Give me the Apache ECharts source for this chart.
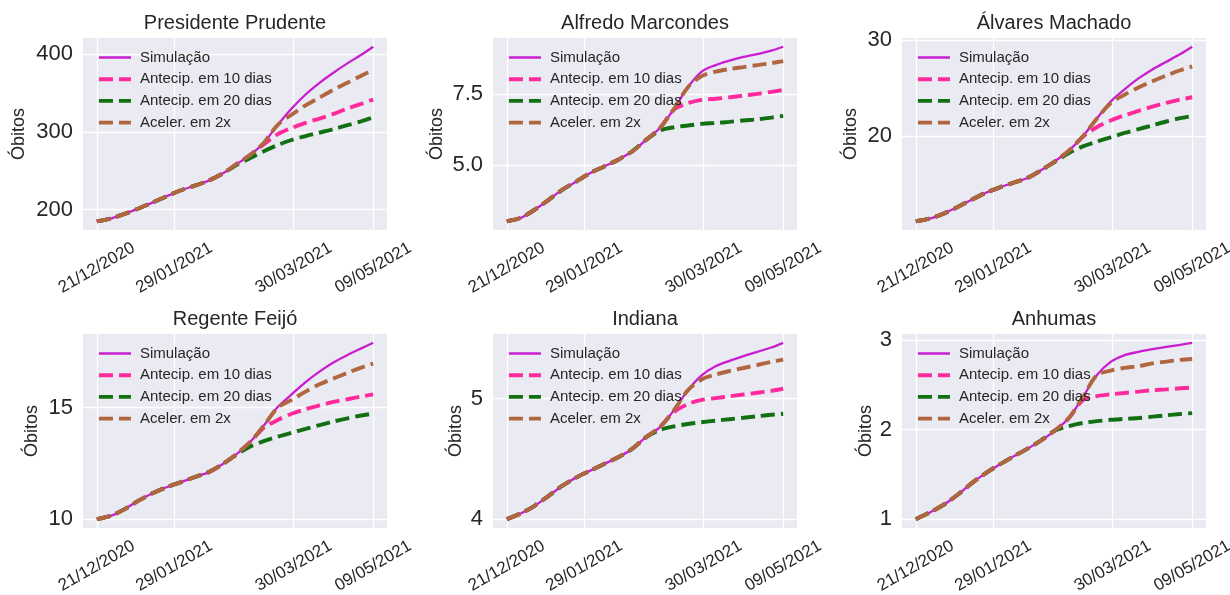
<!DOCTYPE html>
<html><head><meta charset="utf-8">
<script src="https://cdn.jsdelivr.net/npm/echarts@6/dist/echarts.min.js"></script>
<style>html,body{margin:0;padding:0;background:#fff}#c{width:1230px;height:595px}</style>
</head><body><div id="c"></div>
<script>
// ---- data ----
const days = [0,7,14,21,28,35,42,49,56,63,70,77,84,91,98,105,112,119,126,133,139];
const xTickDays = [0,39,99,139];
const xTickLabels = ['21/12/2020','29/01/2021','30/03/2021','09/05/2021'];
const seriesNames = ['Simulação','Antecip. em 10 dias','Antecip. em 20 dias','Aceler. em 2x'];
const titles = ['Presidente Prudente','Alfredo Marcondes','Álvares Machado','Regente Feijó','Indiana','Anhumas'];

const ppSim = [185,188.5,194.5,201.5,209,217,224.5,230.5,237,246,258,270,286,309,330,348,363,376,388,399,409.4];
const ppA10 = [185,188.5,194.5,201.5,209,217,224.5,230.5,237,246,258,270,284,297,305,311.5,317,323,330,336,341.6];
const ppA20 = [185,188.5,194.5,201.5,209,217,224.5,230.5,237,246,257,266,275,283,289.5,294.5,299,303.5,308.5,313.5,318.4];
const ppAc2 = [185,188.5,194.5,201.5,209,217,224.5,230.5,237,246,258,270,286,309,322,334,344,354,363,372,380];
const ppTicks = [200,300,400];
const ppTickLabels = ['200','300','400'];

const amSim = [3.0,3.12,3.41,3.76,4.12,4.41,4.71,4.94,5.18,5.47,5.88,6.30,6.97,7.74,8.30,8.53,8.69,8.82,8.92,9.04,9.18];
const amA10 = [3.0,3.12,3.41,3.76,4.12,4.41,4.71,4.94,5.18,5.47,5.88,6.30,6.95,7.18,7.30,7.34,7.39,7.45,7.51,7.58,7.65];
const amA20 = [3.0,3.12,3.41,3.76,4.12,4.41,4.71,4.94,5.18,5.47,5.88,6.21,6.33,6.39,6.45,6.48,6.52,6.57,6.61,6.67,6.73];
const amAc2 = [3.0,3.12,3.41,3.76,4.12,4.41,4.71,4.94,5.18,5.47,5.88,6.30,6.97,7.74,8.14,8.30,8.39,8.46,8.53,8.60,8.67];
const amTicks = [5.0,7.5];
const amTickLabels = ['5.0','7.5'];

const avSim = [11.08,11.35,11.88,12.57,13.33,14.03,14.6,15.1,15.6,16.4,17.35,18.45,19.95,21.8,23.58,24.86,26.0,26.94,27.74,28.54,29.31];
const avA10 = [11.08,11.35,11.88,12.57,13.33,14.03,14.6,15.1,15.6,16.4,17.35,18.45,19.9,20.9,21.6,22.15,22.6,23.05,23.45,23.8,24.03];
const avA20 = [11.08,11.35,11.88,12.57,13.33,14.03,14.6,15.1,15.6,16.4,17.3,18.2,18.9,19.4,19.85,20.3,20.7,21.1,21.5,21.85,22.08];
const avAc2 = [11.08,11.35,11.88,12.57,13.33,14.03,14.6,15.1,15.6,16.4,17.35,18.45,19.95,21.8,23.4,24.3,25.05,25.7,26.3,26.85,27.25];
const avTicks = [20,30];
const avTickLabels = ['20','30'];

const rfSim = [10.0,10.15,10.45,10.83,11.16,11.43,11.65,11.88,12.1,12.45,12.9,13.45,14.2,15.03,15.6,16.15,16.62,17.03,17.36,17.66,17.91];
const rfA10 = [10.0,10.15,10.45,10.83,11.16,11.43,11.65,11.88,12.1,12.45,12.9,13.45,14.1,14.45,14.73,14.93,15.1,15.26,15.38,15.5,15.6];
const rfA20 = [10.0,10.15,10.45,10.83,11.16,11.43,11.65,11.88,12.1,12.45,12.88,13.25,13.5,13.7,13.88,14.05,14.22,14.38,14.52,14.65,14.73];
const rfAc2 = [10.0,10.15,10.45,10.83,11.16,11.43,11.65,11.88,12.1,12.45,12.9,13.45,14.2,15.0,15.35,15.72,16.05,16.31,16.56,16.8,16.98];
const rfTicks = [10,15];
const rfTickLabels = ['10','15'];

const inSim = [4.0,4.047,4.111,4.194,4.278,4.347,4.403,4.458,4.514,4.583,4.681,4.764,4.903,5.069,5.194,5.269,5.314,5.353,5.389,5.425,5.464];
const inA10 = [4.0,4.047,4.111,4.194,4.278,4.347,4.403,4.458,4.514,4.583,4.681,4.764,4.89,4.955,4.99,5.005,5.02,5.035,5.05,5.065,5.083];
const inA20 = [4.0,4.047,4.111,4.194,4.278,4.347,4.403,4.458,4.514,4.583,4.68,4.74,4.77,4.79,4.805,4.818,4.83,4.842,4.855,4.867,4.875];
const inAc2 = [4.0,4.047,4.111,4.194,4.278,4.347,4.403,4.458,4.514,4.583,4.681,4.764,4.903,5.069,5.16,5.2,5.23,5.255,5.28,5.305,5.325];
const inTicks = [4,5];
const inTickLabels = ['4','5'];

const anSim = [1.0,1.075,1.161,1.273,1.4,1.512,1.609,1.699,1.785,1.88,1.99,2.13,2.364,2.607,2.757,2.832,2.869,2.899,2.925,2.948,2.97];
const anA10 = [1.0,1.075,1.161,1.273,1.4,1.512,1.609,1.699,1.785,1.88,1.99,2.13,2.33,2.375,2.395,2.41,2.425,2.44,2.45,2.462,2.47];
const anA20 = [1.0,1.075,1.161,1.273,1.4,1.512,1.609,1.699,1.785,1.88,1.99,2.04,2.075,2.095,2.11,2.12,2.13,2.145,2.16,2.175,2.185];
const anAc2 = [1.0,1.075,1.161,1.273,1.4,1.512,1.609,1.699,1.785,1.88,1.99,2.13,2.364,2.607,2.66,2.69,2.71,2.74,2.76,2.78,2.79];
const anTicks = [1,2,3];
const anTickLabels = ['1','2','3'];

// ---- assembly ----
const panels = [
  {series:[ppSim,ppA10,ppA20,ppAc2], ticks:ppTicks, labels:ppTickLabels},
  {series:[amSim,amA10,amA20,amAc2], ticks:amTicks, labels:amTickLabels},
  {series:[avSim,avA10,avA20,avAc2], ticks:avTicks, labels:avTickLabels},
  {series:[rfSim,rfA10,rfA20,rfAc2], ticks:rfTicks, labels:rfTickLabels},
  {series:[inSim,inA10,inA20,inAc2], ticks:inTicks, labels:inTickLabels},
  {series:[anSim,anA10,anA20,anAc2], ticks:anTicks, labels:anTickLabels}
];
const colors = ['#c81ed0','#ff2a9c','#127012','#b0663f'];
const gridLefts = [83,493,902];
const gridTops = [38,334];
const gridW = 304, gridHs = [192,194];
const nameGaps = [55,47,42,42,28,27];
const FONT = "'Liberation Sans', Arial, sans-serif";
const TXT = '#262626';
const solidStyle = c => ({width:2.3, color:c, type:'solid'});
const dashStyle = c => ({width:3.9, color:c, type:[14,6]});

const xPad = 0.05*(days[days.length-1]-days[0]);
const option = {animation:false, backgroundColor:'#ffffff', textStyle:{fontFamily:FONT},
  grid:[], xAxis:[], yAxis:[], series:[], title:[], legend:[]};

panels.forEach((p,i)=>{
  const r = Math.floor(i/3), c = i%3;
  const left = gridLefts[c], top = gridTops[r], h = gridHs[r];
  option.grid.push({left:left, top:top, width:gridW, height:h, show:true, backgroundColor:'#eaeaf2',
    borderWidth:0, containLabel:false, outerBoundsMode:'none'});
  option.xAxis.push({type:'value', gridIndex:i, min:days[0]-xPad, max:days[days.length-1]+xPad,
    axisLine:{show:false}, axisTick:{show:false, customValues:xTickDays},
    splitLine:{show:true, lineStyle:{color:'#ffffff', width:1.3}},
    axisLabel:{customValues:xTickDays, rotate:30, align:'center', verticalAlign:'middle', margin:38,
      fontSize:17, color:TXT, hideOverlap:false,
      formatter:v=>{const k=xTickDays.findIndex(d=>Math.abs(d-v)<1e-6);return k>=0?xTickLabels[k]:'';}}});
  let lo=Infinity, hi=-Infinity;
  p.series.forEach(a=>a.forEach(v=>{lo=Math.min(lo,v);hi=Math.max(hi,v);}));
  const pad=0.05*(hi-lo);
  option.yAxis.push({type:'value', gridIndex:i, min:lo-pad, max:hi+pad,
    name:'Óbitos', nameLocation:'middle', nameGap:nameGaps[i], nameTextStyle:{fontSize:18, color:TXT},
    axisLine:{show:false}, axisTick:{show:false, customValues:p.ticks},
    splitLine:{show:true, lineStyle:{color:'#ffffff', width:1.3}},
    axisLabel:{customValues:p.ticks, fontSize:22, color:TXT, margin:10, hideOverlap:false,
      formatter:v=>{const k=p.ticks.findIndex(d=>Math.abs(d-v)<1e-9);return k>=0?p.labels[k]:'';}}});
  p.series.forEach((arr,s)=>{
    option.series.push({type:'line', name:seriesNames[s], xAxisIndex:i, yAxisIndex:i,
      data:days.map((d,k)=>[d,arr[k]]), symbol:'none', smooth:0.3, color:colors[s],
      lineStyle: s===0 ? solidStyle(colors[s]) : dashStyle(colors[s]),
      emphasis:{disabled:true}});
  });
  option.title.push({text:titles[i], left:left+gridW/2, top: r===0?13:309, textAlign:'center', padding:0,
    textStyle:{fontSize:20, fontWeight:'normal', color:TXT, fontFamily:FONT}});
  option.legend.push({
    data:seriesNames.map((n,s)=>({name:n, lineStyle: s===0 ? solidStyle(colors[s]) : dashStyle(colors[s])})),
    orient:'vertical', left:left+14, top:top+12, padding:0,
    itemWidth:32, itemHeight:14, itemGap:6.7, selectedMode:false,
    itemStyle:{opacity:0, borderWidth:0},
    textStyle:{fontSize:15, color:TXT, lineHeight:15, padding:[0,0,0,4]}});
});

const chart = echarts.init(document.getElementById('c'), null, {renderer:'canvas'});
chart.setOption(option);
</script>
</body></html>
